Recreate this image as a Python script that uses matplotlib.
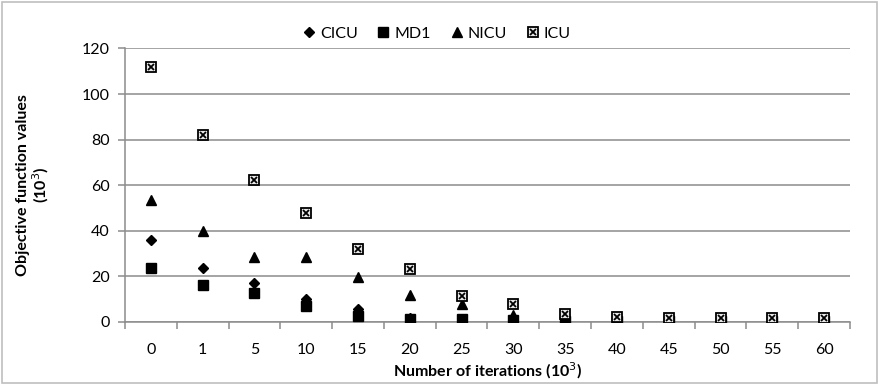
import matplotlib.pyplot as plt
from matplotlib.patches import Rectangle
from matplotlib.legend_handler import HandlerTuple
import numpy as np

# iterations (10^3) on a categorical axis
categories = ["0", "1", "5", "10", "15", "20", "25", "30", "35", "40", "45", "50", "55", "60"]

cicu = [36.1, 23.5, 16.9, 10.0, 5.4, 1.5, 1.0, 1.8, 0.3, 0.2, 0.2, 0.2, 0.2, 0.2]
md1 = [23.8, 16.2, 12.8, 6.9, 2.5, 1.0, 1.2, 0.8, 0.2, 0.1, 0.1, 0.1, 0.1, 0.1]
nicu = [53.3, 40.0, 28.6, 28.6, 19.5, 11.7, 7.7, 2.9, 0.5, 0.3, 0.2, 0.2, 0.2, 0.2]
icu = [112.0, 82.2, 62.4, 47.6, 32.0, 23.3, 11.4, 7.7, 3.4, 1.9, 1.8, 1.8, 1.8, 1.8]

y_ticks = [0, 20, 40, 60, 80, 100, 120]

plt.rcParams["font.family"] = ["Lato", "DejaVu Sans"]

grid_col = "#8c8c8c"

fig = plt.figure(figsize=(8.79, 3.84), dpi=100)
ax = fig.add_axes([0.1422, 0.1622, 0.967 - 0.1422, 0.8737 - 0.1622])

x = np.arange(len(categories))

h_cicu, = ax.plot(x, cicu, linestyle="none", marker="D", markersize=5.2,
                  color="black", zorder=3)
h_md1, = ax.plot(x, md1, linestyle="none", marker="s", markersize=6.8,
                 color="black", zorder=3)
h_nicu, = ax.plot(x, nicu, linestyle="none", marker="^", markersize=7.5,
                  color="black", zorder=3)
h_icu_box, = ax.plot(x, icu, linestyle="none", marker="s", markersize=7,
                     markerfacecolor="#e8e8e8", markeredgecolor="black",
                     markeredgewidth=1.3, zorder=4)
h_icu_x, = ax.plot(x, icu, linestyle="none", marker="x", markersize=5,
                   color="black", markeredgewidth=1.3, zorder=5)

ax.set_xlim(-0.5, len(categories) - 0.5)
ax.set_ylim(0, 120)
ax.set_yticks(y_ticks)
ax.set_xticks(x)
ax.set_xticklabels(categories)
ax.set_xticks(np.arange(-0.5, len(categories) + 0.5, 1), minor=True)

ax.grid(axis="y", color=grid_col, linewidth=1.1, zorder=0)
ax.set_axisbelow(True)

for side in ["top", "right"]:
    ax.spines[side].set_visible(False)
for side in ["left", "bottom"]:
    ax.spines[side].set_color(grid_col)
    ax.spines[side].set_linewidth(1.1)

ax.tick_params(axis="x", which="major", length=0, labelsize=11.5, pad=15,
               labelcolor="black")
ax.tick_params(axis="x", which="minor", length=5, color=grid_col, width=1.1)
ax.tick_params(axis="y", length=5, color=grid_col, width=1.1, labelsize=11.5,
               pad=6)

ax.set_xlabel("Number of iterations (10$^3$)", fontsize=11.5,
              fontweight="bold", labelpad=3)
ax.set_ylabel("Objective function values\n(10$^3$)", fontsize=11.5,
              fontweight="bold", labelpad=22, linespacing=1.05)

ax.legend([h_cicu, h_md1, h_nicu, (h_icu_box, h_icu_x)],
          ["CICU", "MD1", "NICU", "ICU"],
          handler_map={tuple: HandlerTuple(ndivide=1)},
          loc="lower center", bbox_to_anchor=(0.43, 1.0), ncol=4,
          frameon=False, fontsize=11.5, handlelength=0.8,
          handletextpad=0.3, columnspacing=1.2, borderaxespad=0.3,
          borderpad=0.2)

fig.patches.append(Rectangle((0.002, 0.003), 0.996, 0.992,
                             transform=fig.transFigure, fill=False,
                             edgecolor="#bfbfbf", linewidth=1.2))

fig.savefig("out.png", dpi=100)
